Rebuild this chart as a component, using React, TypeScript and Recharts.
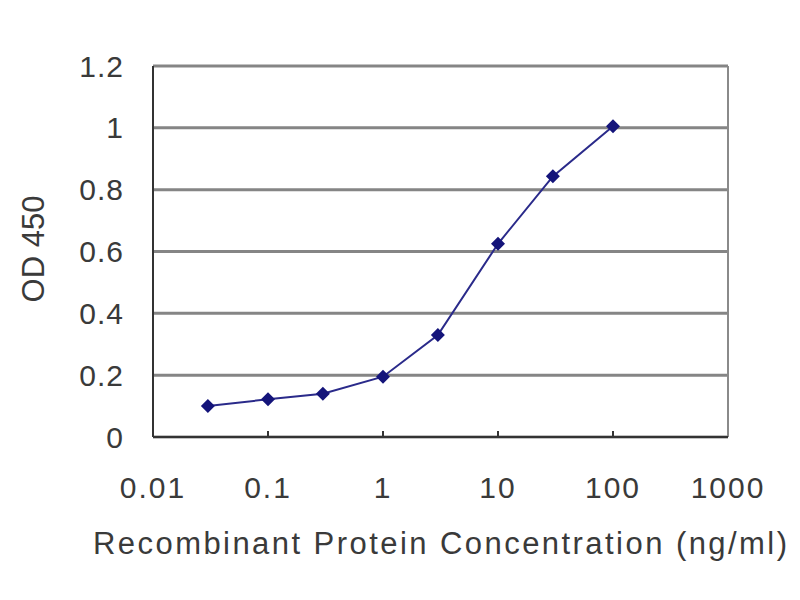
import {
  CartesianGrid,
  Line,
  LineChart,
  ReferenceLine,
  XAxis,
  YAxis,
} from 'recharts'

// Concentration (ng/ml) and measured OD 450
const concentrations = [0.03, 0.1, 0.3, 1, 3, 10, 30, 100]
const odValues = [0.1, 0.122, 0.14, 0.195, 0.33, 0.625, 0.843, 1.005]

const xTicks = [0.01, 0.1, 1, 10, 100, 1000]
const yTicks = [0, 0.2, 0.4, 0.6, 0.8, 1, 1.2]

const data = concentrations.map((c, i) => ({ conc: c, od: odValues[i] }))

const FONT = '"Liberation Sans", Arial, sans-serif'
const TEXT = '#3a3a3a'
const NAVY = '#14147a'

function Diamond(props: any) {
  const { cx, cy } = props
  if (cx == null || cy == null) return null
  const r = 7
  return (
    <polygon
      points={`${cx},${cy - r} ${cx + r},${cy} ${cx},${cy + r} ${cx - r},${cy}`}
      fill={NAVY}
    />
  )
}

function XTick(props: any) {
  const { x, y, payload } = props
  const inner = payload.value > 0.01 && payload.value < 1000
  return (
    <g>
      {inner && <line x1={x} y1={y} x2={x} y2={y - 6} stroke="#333" strokeWidth={2} />}
      <text
        x={x}
        y={y + 50}
        textAnchor="middle"
        dominantBaseline="central"
        fontFamily={FONT}
        fontSize={30}
        letterSpacing={2}
        fill={TEXT}
      >
        {payload.value}
      </text>
    </g>
  )
}

function YTick(props: any) {
  const { y, payload } = props
  return (
    <text
      x={124}
      y={y}
      textAnchor="end"
      dominantBaseline="central"
      fontFamily={FONT}
      fontSize={30}
      letterSpacing={1}
      fill={TEXT}
    >
      {payload.value}
    </text>
  )
}

export default function App() {
  return (
    <div style={{ position: 'fixed', left: 0, top: 0, width: 800, height: 600, background: '#fff' }}>
      <LineChart
        width={800}
        height={600}
        data={data}
        margin={{ top: 66, right: 72, bottom: 0, left: 0 }}
      >
        <CartesianGrid vertical={false} stroke="#858585" strokeWidth={3} />
        <XAxis
          dataKey="conc"
          type="number"
          scale="log"
          domain={[0.01, 1000]}
          ticks={xTicks}
          allowDataOverflow
          height={163}
          tickSize={0}
          tickMargin={0}
          tickLine={false}
          axisLine={{ stroke: '#333', strokeWidth: 2 }}
          tick={<XTick />}
          interval={0}
        />
        <YAxis
          type="number"
          domain={[0, 1.2]}
          ticks={yTicks}
          width={153}
          tickSize={0}
          tickLine={false}
          axisLine={{ stroke: '#333', strokeWidth: 2 }}
          tick={<YTick />}
          interval={0}
        />
        <ReferenceLine x={1000} stroke="#8a8a8a" strokeWidth={2} />
        <Line
          dataKey="od"
          stroke="#2a2a8a"
          strokeWidth={2}
          dot={<Diamond />}
          activeDot={false}
          isAnimationActive={false}
        />
        <text
          x={33}
          y={249}
          transform="rotate(-90 33 249)"
          textAnchor="middle"
          dominantBaseline="central"
          fontFamily={FONT}
          fontSize={31}
          fill={TEXT}
        >
          OD 450
        </text>
        <text
          x={93}
          y={543}
          textAnchor="start"
          dominantBaseline="central"
          fontFamily={FONT}
          fontSize={31}
          textLength={694}
          lengthAdjust="spacing"
          fill={TEXT}
        >
          Recombinant Protein Concentration (ng/ml)
        </text>
      </LineChart>
    </div>
  )
}
